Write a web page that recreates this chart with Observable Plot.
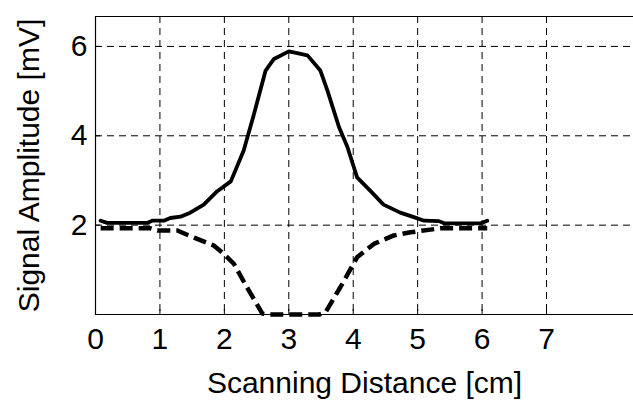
<!DOCTYPE html>
<html>
<head>
<meta charset="utf-8">
<script src="https://cdn.jsdelivr.net/npm/d3@7"></script>
<script src="https://cdn.jsdelivr.net/npm/@observablehq/plot@0.6"></script>
<style>
  html, body { margin: 0; padding: 0; background: #fff; }
  svg { font-family: "Liberation Sans", Arial, sans-serif; }
</style>
</head>
<body>
<div id="chart"></div>
<script>
// Solid curve (signal amplitude, mV) vs scanning distance (cm)
const solidX = [0.08, 0.18, 0.8, 0.88, 1.06, 1.16, 1.32, 1.47, 1.68, 1.89, 2.10, 2.30, 2.46, 2.64, 2.77, 3.0, 3.13, 3.29, 3.49, 3.60, 3.78, 3.91, 4.06, 4.27, 4.47, 4.73, 4.94, 5.10, 5.33, 5.41, 5.98, 6.08];
const solidY = [2.10, 2.05, 2.05, 2.10, 2.10, 2.16, 2.19, 2.28, 2.46, 2.76, 2.98, 3.67, 4.49, 5.46, 5.72, 5.89, 5.85, 5.80, 5.46, 5.01, 4.19, 3.75, 3.07, 2.76, 2.46, 2.28, 2.18, 2.10, 2.09, 2.04, 2.04, 2.10];
// Dashed curve
const dashX = [0.08, 0.85, 0.96, 1.27, 1.53, 1.84, 1.99, 2.15, 2.35, 2.59, 2.69, 3.47, 3.57, 3.80, 4.06, 4.32, 4.63, 4.89, 5.20, 5.35, 6.08];
const dashY = [1.93, 1.93, 1.88, 1.88, 1.72, 1.54, 1.36, 1.13, 0.61, 0.02, 0.0, 0.0, 0.05, 0.61, 1.28, 1.58, 1.77, 1.84, 1.90, 1.93, 1.93];

const xTicks = [0, 1, 2, 3, 4, 5, 6, 7];
const xGrid = [1, 2, 3, 4, 5, 6, 7];
const yTicks = [2, 4, 6];
const xLabel = "Scanning Distance [cm]";
const yLabel = "Signal Amplitude [mV]";

const solid = solidX.map((x, i) => ({x, y: solidY[i]}));
const dashed = dashX.map((x, i) => ({x, y: dashY[i]}));

const W = 633, H = 401;
const mL = 95, mT = 16, mB = 87, mR = 0;
const innerH = H - mT - mB;

const chart = Plot.plot({
  width: W,
  height: H,
  marginLeft: mL,
  marginTop: mT,
  marginBottom: mB,
  marginRight: mR,
  style: {fontFamily: '"Liberation Sans", Arial, sans-serif', background: "#fff", color: "#000"},
  x: {domain: [0, 8.35]},
  y: {domain: [0, 6.67]},
  marks: [
    Plot.gridX(xGrid, {stroke: "#000", strokeOpacity: 1, strokeWidth: 1, strokeDasharray: "7,5"}),
    Plot.gridY(yTicks, {stroke: "#000", strokeOpacity: 1, strokeWidth: 1, strokeDasharray: "7,5"}),
    // inward ticks
    Plot.tickX(xGrid, {x: d => d, insetTop: innerH - 5, stroke: "#000"}),
    Plot.tickY(yTicks, {y: d => d, insetRight: W - mL - 5, stroke: "#000"}),
    // frame (top, bottom, left)
    Plot.ruleY([0, 6.67], {stroke: "#000", strokeWidth: 1.2}),
    Plot.ruleX([0], {stroke: "#000", strokeWidth: 1.2}),
    Plot.line(dashed, {x: "x", y: "y", stroke: "#000", strokeWidth: 4.5, strokeDasharray: "13,6", strokeLinecap: "butt", strokeLinejoin: "round"}),
    Plot.line(solid, {x: "x", y: "y", stroke: "#000", strokeWidth: 3.8, strokeLinejoin: "round"}),
    Plot.axisX(xTicks, {
      tickSize: 0, tickPadding: 13, fontSize: 30, fill: "#000",
      label: null
    }),
    Plot.axisX({
      ticks: [], tickSize: 0, fontSize: 30, fill: "#000",
      label: xLabel, labelAnchor: "center", labelArrow: "none", labelOffset: 78
    }),
    Plot.axisY(yTicks, {
      tickSize: 0, tickPadding: 8, fontSize: 30, fill: "#000",
      label: null
    }),
    Plot.axisY({
      ticks: [], tickSize: 0, fontSize: 30, fill: "#000",
      label: yLabel, labelAnchor: "center", labelArrow: "none", labelOffset: 78
    })
  ]
});
document.getElementById("chart").appendChild(chart);
</script>
</body>
</html>
